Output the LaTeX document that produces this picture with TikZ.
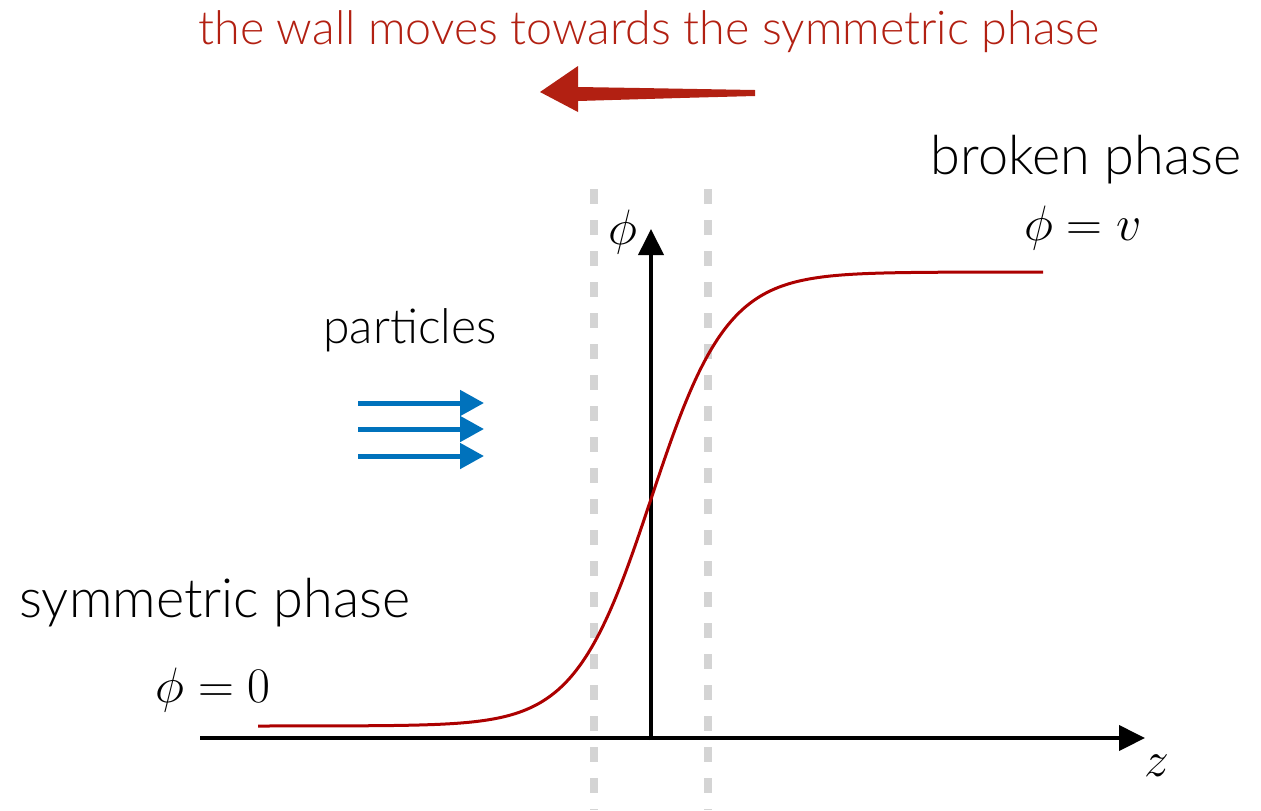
\documentclass[tikz,border=0pt]{standalone}
\usepackage[no-math]{fontspec}
\usetikzlibrary{arrows.meta}
\newfontfamily\gill{Lato Light}
\definecolor{wallred}{RGB}{178,32,18}
\definecolor{curvered}{RGB}{172,0,0}
\definecolor{pblue}{RGB}{0,114,188}
\definecolor{dgray}{RGB}{212,212,212}
\tikzset{
  lbl/.style={font=\gill\fontsize{27}{32}\selectfont, inner sep=0pt},
  mlbl/.style={font=\fontsize{29}{32}\selectfont, inner sep=0pt},
  axis/.style={line width=2pt, -{Triangle[length=13pt,width=12.5pt]}},
  wallline/.style={dgray, line width=4pt, dash pattern=on 7.5pt off 8pt},
  parr/.style={pblue, line width=2.5pt, -{Triangle[length=12pt,width=12.5pt]}},
}
\begin{document}
\begin{tikzpicture}[x=0.5pt,y=-0.5pt]
\useasboundingbox (0,0) rectangle (1261,810);
% title
\node[lbl, text=wallred, font=\gill\fontsize{23.3}{28}\selectfont] (title) at (649,32) {the wall moves towards the symmetric phase};
% hand drawn arrow
\fill[wallred] (578,87) -- (640,88) -- (755,90) -- (755,96) -- (680,98) -- (578,101) -- cycle;
\fill[wallred] (540,92) -- (578,66) -- (578,112) -- cycle;
% dashed wall lines
\coordinate (wl1) at (594,189);
\coordinate (wl2) at (594,810);
\coordinate (wr1) at (708,189);
\coordinate (wr2) at (708,810);
\draw[wallline] (wl1) -- (wl2);
\draw[wallline] (wr1) -- (wr2);
% axes
\coordinate (zs) at (200,738);
\coordinate (ze) at (1145,738);
\coordinate (ys) at (651,740);
\coordinate (ye) at (651,229);
\draw[axis] (zs) -- (ze);
\draw[axis] (ys) -- (ye);
\node[mlbl] (philbl) at (623,232) {$\phi$};
\node[mlbl] (zlbl) at (1157,766) {$z$};
% curve
\draw[curvered, line width=1.5pt, domain=258:1043, samples=200, smooth] plot (\x, {499 - 227*tanh((\x-651)/76)});
% labels
\node[lbl, font=\gill\fontsize{24}{28}\selectfont] (part) at (410,330) {particles};
\node[lbl] (sym) at (215,603) {symmetric phase};
\node[mlbl] (phi0) at (213,690) {$\phi = 0$};
\node[lbl] (brok) at (1086,160) {broken phase};
\node[mlbl] (phiv) at (1083,228) {$\phi = v$};
% particle arrows
\coordinate (a1s) at (358,403); \coordinate (a1e) at (484,403);
\coordinate (a2s) at (358,429); \coordinate (a2e) at (484,429);
\coordinate (a3s) at (358,456); \coordinate (a3e) at (484,456);
\draw[parr] (a1s) -- (a1e);
\draw[parr] (a2s) -- (a2e);
\draw[parr] (a3s) -- (a3e);
\end{tikzpicture}
\end{document}
